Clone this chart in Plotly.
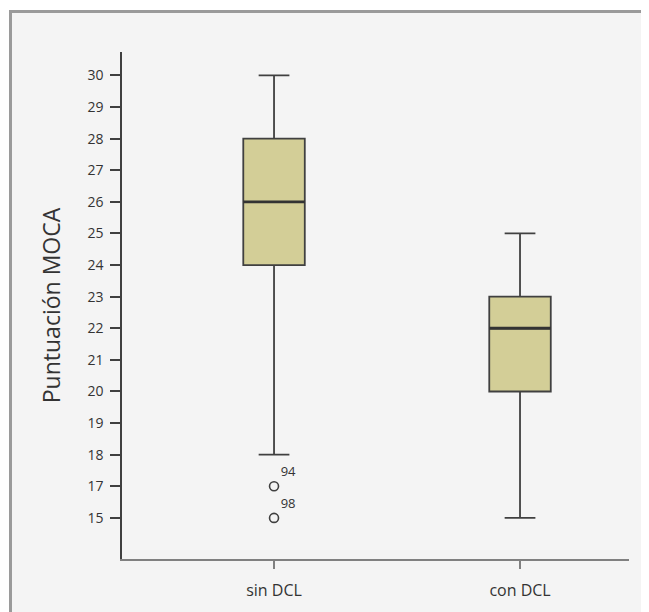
import plotly.graph_objects as go

# ---- data ----
categories = ["sin DCL", "con DCL"]
q1 = [24, 20]
median = [26, 22]
q3 = [28, 23]
lower_whisker = [18, 15]
upper_whisker = [30, 25]

outlier_category = ["sin DCL", "sin DCL"]
outlier_values = [17, 15]
outlier_ids = ["94", "98"]

# tick labels as printed on the original axis (16 is absent; 15 sits one step below 17)
y_tick_labels = [15, 17, 18, 19, 20, 21, 22, 23, 24, 25, 26, 27, 28, 29, 30]

# ordinal scale reproducing the original axis
pos = {v: i for i, v in enumerate(y_tick_labels)}
def sc(vals):
    return [pos[v] for v in vals]

FONT = "Open Sans"
BOX_FILL = "#d3ce97"
LINE = "#404040"

# page body has an 8px margin, so the figure is sized/offset accordingly
W, H = 641, 604
L, R, T, B = 114, 20, 44, 53
PW = W - L - R
PH = H - T - B

fig = go.Figure()
fig.add_trace(go.Box(
    x=categories,
    q1=sc(q1), median=sc(median), q3=sc(q3),
    lowerfence=sc(lower_whisker), upperfence=sc(upper_whisker),
    fillcolor=BOX_FILL,
    line=dict(color=LINE, width=1.8),
    width=0.25,
    whiskerwidth=0.5,
    boxpoints=False,
    showlegend=False,
    hoverinfo="skip",
))
# heavier median line, drawn as a flat box at the median
fig.add_trace(go.Box(
    x=categories,
    q1=sc(median), median=sc(median), q3=sc(median),
    lowerfence=sc(median), upperfence=sc(median),
    fillcolor="rgba(0,0,0,0)",
    line=dict(color="#333333", width=2.8),
    width=0.25,
    whiskerwidth=0,
    boxpoints=False,
    showlegend=False,
    hoverinfo="skip",
))
fig.add_trace(go.Scatter(
    x=outlier_category, y=sc(outlier_values),
    mode="markers+text",
    marker=dict(symbol="circle-open", size=9, color=LINE, line=dict(width=1.6, color=LINE)),
    text=outlier_ids, textposition="top right",
    textfont=dict(family=FONT, size=13, color="#333333"),
    showlegend=False, hoverinfo="skip", cliponaxis=False,
))

fig.update_layout(
    width=W, height=H,
    margin=dict(l=L, r=R, t=T, b=B),
    paper_bgcolor="white",
    plot_bgcolor="rgba(0,0,0,0)",
    font=dict(family=FONT, color="#333333"),
    boxmode="overlay",
    shapes=[dict(
        type="rect", xref="paper", yref="paper",
        x0=(2.5 - L) / PW, x1=(640 - L) / PW,
        y0=-0.3, y1=(H - B - 3.5) / PH,
        line=dict(color="#9a9a9a", width=3),
        fillcolor="#f4f4f4", layer="below",
    )],
    xaxis=dict(
        type="category",
        range=[-0.618, 1.443],
        showgrid=False, zeroline=False,
        showline=True, linecolor="#808080", linewidth=1.5,
        ticks="outside", ticklen=8, tickcolor="#808080", tickwidth=1.5,
        ticklabelstandoff=8,
        tickfont=dict(family=FONT, size=16, color="#333333"),
    ),
    yaxis=dict(
        range=[-1.30, 14.74],
        tickmode="array",
        tickvals=list(range(len(y_tick_labels))),
        ticktext=[str(v) for v in y_tick_labels],
        showgrid=False, zeroline=False,
        showline=True, linecolor=LINE, linewidth=1.5,
        ticks="outside", ticklen=10, tickcolor=LINE, tickwidth=1.5,
        ticklabelstandoff=4,
        tickfont=dict(family=FONT, size=14, color="#333333"),
        title=dict(text="Puntuación MOCA", font=dict(family=FONT, size=23, color="#333333"), standoff=20),
    ),
)

fig.write_html("out.html")
